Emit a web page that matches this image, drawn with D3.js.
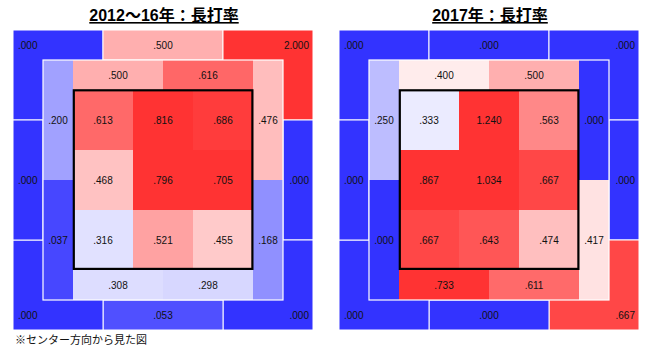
<!DOCTYPE html>
<html lang="ja">
<head>
    <meta charset="UTF-8">
    <title>長打率 ゾーン別</title>
    <script src="https://d3js.org/d3.v7.min.js"></script>
    <style>
        body { margin: 0; background: #fff; }
        svg text { font-family: "Liberation Sans", Arial, "Noto Sans CJK JP", sans-serif; }
        .title { font-size: 16px; font-weight: bold; text-decoration: underline; }
        .val { font-size: 10px; fill: #111; }
    </style>
</head>
<body>
<svg id="chart" width="664" height="350"></svg>
<script>
// titles for each panel
const titles = ["2012～16年：長打率", "2017年：長打率"];
const note = "※センター方向から見た図";

// inner 3x3 zone (rows top -> bottom, cols left -> right)
const inner2012 = [[0.613, 0.816, 0.686], [0.468, 0.796, 0.705], [0.316, 0.521, 0.455]];
const inner2017 = [[0.333, 1.240, 0.563], [0.867, 1.034, 0.667], [0.667, 0.643, 0.474]];

// middle ring: top [L, R], bottom [L, R], left [top, bottom], right [top, bottom]
const midTop2012 = [0.500, 0.616], midBottom2012 = [0.308, 0.298];
const midLeft2012 = [0.200, 0.037], midRight2012 = [0.476, 0.168];
const midTop2017 = [0.400, 0.500], midBottom2017 = [0.733, 0.611];
const midLeft2017 = [0.250, 0.000], midRight2017 = [0.000, 0.417];

// outer ring: TL, T, TR, R, BR, B, BL, L
const outerKeys = ["TL", "T", "TR", "R", "BR", "B", "BL", "L"];
const outer2012 = [0.000, 0.500, 2.000, 0.000, 0.000, 0.053, 0.000, 0.000];
const outer2017 = [0.000, 0.000, 0.000, 0.000, 0.667, 0.000, 0.000, 0.000];

const panels = [
    { title: titles[0], inner: inner2012, top: midTop2012, bottom: midBottom2012, left: midLeft2012, right: midRight2012, outer: outer2012, dx: 0 },
    { title: titles[1], inner: inner2017, top: midTop2017, bottom: midBottom2017, left: midLeft2017, right: midRight2017, outer: outer2017, dx: 326 }
];

// blue -> white -> red, same scale for both panels
const color = d3.scaleLinear()
    .domain([0, 0.37, 0.70])
    .range(["#3333ff", "#ffffff", "#ff3333"])
    .clamp(true);

const fmt = v => d3.format(".3f")(v).replace(/^0/, "");

const svg = d3.select("#chart");

// layout of outer segments in grid units (10 x 10 grid, 30px per unit)
const outerRects = {
    TL: [0, 0, 3, 3], T: [3, 0, 7, 1], TR: [7, 0, 10, 3], R: [9, 3, 10, 7],
    BR: [7, 7, 10, 10], B: [3, 9, 7, 10], BL: [0, 7, 3, 10], L: [0, 3, 1, 7]
};
const outerLabel = {
    TL: ["start", 0, 0.5], T: ["middle", 5, 0.5], TR: ["end", 10, 0.5], R: ["end", 10, 5],
    BR: ["end", 10, 9.5], B: ["middle", 5, 9.5], BL: ["start", 0, 9.5], L: ["start", 0, 5]
};

panels.forEach(p => {
    const x = d3.scaleLinear().domain([0, 10]).range([13 + p.dx, 313 + p.dx]);
    const y = d3.scaleLinear().domain([0, 10]).range([30, 330]);
    const g = svg.append("g");

    // title
    g.append("text")
        .attr("class", "title")
        .attr("x", x(5) + 1)
        .attr("y", 21)
        .attr("text-anchor", "middle")
        .text(p.title);

    // outer ring
    const outerData = outerKeys.map((k, i) => ({ k, v: p.outer[i] }));
    g.selectAll("rect.outer")
        .data(outerData)
        .join("rect")
        .attr("class", "outer")
        .attr("x", d => x(outerRects[d.k][0]))
        .attr("y", d => y(outerRects[d.k][1]))
        .attr("width", d => x(outerRects[d.k][2]) - x(outerRects[d.k][0]))
        .attr("height", d => y(outerRects[d.k][3]) - y(outerRects[d.k][1]))
        .attr("fill", d => color(d.v))
        .attr("stroke", "#fff")
        .attr("stroke-width", 1);

    // middle ring cells
    const mid = [
        { u0: 2, v0: 1, u1: 5, v1: 2, v: p.top[0] },
        { u0: 5, v0: 1, u1: 8, v1: 2, v: p.top[1] },
        { u0: 2, v0: 8, u1: 5, v1: 9, v: p.bottom[0] },
        { u0: 5, v0: 8, u1: 8, v1: 9, v: p.bottom[1] },
        { u0: 1, v0: 1, u1: 2, v1: 5, v: p.left[0] },
        { u0: 1, v0: 5, u1: 2, v1: 9, v: p.left[1] },
        { u0: 8, v0: 1, u1: 9, v1: 5, v: p.right[0] },
        { u0: 8, v0: 5, u1: 9, v1: 9, v: p.right[1] }
    ];
    // inner zone cells
    const inner = [];
    p.inner.forEach((row, r) => row.forEach((v, c) => {
        inner.push({ u0: 2 + 2 * c, v0: 2 + 2 * r, u1: 4 + 2 * c, v1: 4 + 2 * r, v });
    }));

    g.selectAll("rect.mid")
        .data(mid)
        .join("rect")
        .attr("class", "mid")
        .attr("x", d => x(d.u0))
        .attr("y", d => y(d.v0))
        .attr("width", d => x(d.u1) - x(d.u0))
        .attr("height", d => y(d.v1) - y(d.v0))
        .attr("fill", d => color(d.v));

    // white outline round the middle ring
    g.append("rect")
        .attr("x", x(1))
        .attr("y", y(1))
        .attr("width", x(9) - x(1))
        .attr("height", y(9) - y(1))
        .attr("fill", "none")
        .attr("stroke", "#fff")
        .attr("stroke-width", 1.2);

    g.selectAll("rect.inner")
        .data(inner)
        .join("rect")
        .attr("class", "inner")
        .attr("x", d => x(d.u0))
        .attr("y", d => y(d.v0))
        .attr("width", d => x(d.u1) - x(d.u0))
        .attr("height", d => y(d.v1) - y(d.v0))
        .attr("fill", d => color(d.v));

    // strike zone border
    g.append("rect")
        .attr("x", x(2) + 0.8)
        .attr("y", y(2) + 0.3)
        .attr("width", x(8) - x(2) - 1.4)
        .attr("height", y(8) - y(2) - 1.4)
        .attr("fill", "none")
        .attr("stroke", "#000")
        .attr("stroke-width", 2.2);

    // labels
    g.selectAll("text.ov")
        .data(outerData)
        .join("text")
        .attr("class", "val ov")
        .attr("text-anchor", d => outerLabel[d.k][0])
        .attr("x", d => {
            const a = outerLabel[d.k];
            return a[0] === "start" ? x(a[1]) + 5 : a[0] === "end" ? x(a[1]) - 4 : x(a[1]);
        })
        .attr("y", d => y(outerLabel[d.k][2]))
        .attr("dy", "0.36em")
        .text(d => fmt(d.v));

    g.selectAll("text.cv")
        .data(mid.concat(inner))
        .join("text")
        .attr("class", "val cv")
        .attr("text-anchor", "middle")
        .attr("x", d => x((d.u0 + d.u1) / 2))
        .attr("y", d => y((d.v0 + d.v1) / 2))
        .attr("dy", "0.36em")
        .text(d => fmt(d.v));
});

svg.append("text")
    .attr("x", 15)
    .attr("y", 344)
    .style("font-size", "11px")
    .style("font-family", "'Noto Sans CJK JP', sans-serif")
    .attr("fill", "#111")
    .text(note);
</script>
</body>
</html>
